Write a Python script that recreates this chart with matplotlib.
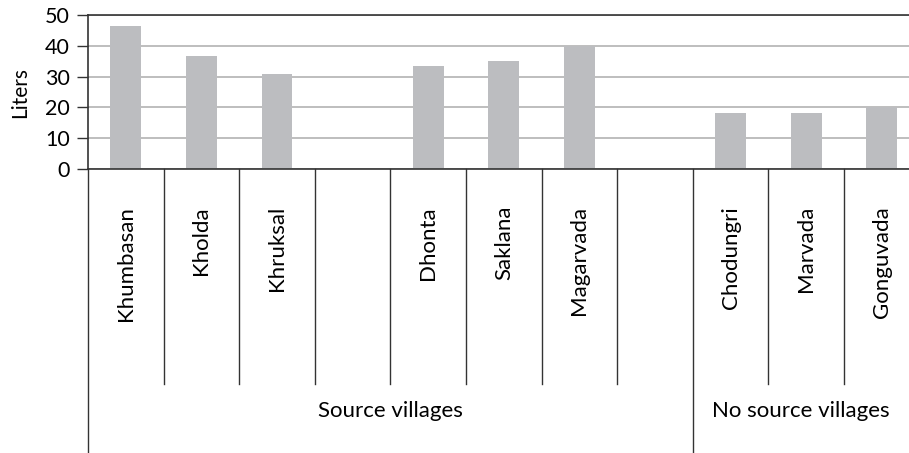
import matplotlib
matplotlib.use("Agg")
import matplotlib.pyplot as plt
import matplotlib.transforms as mtransforms

villages = ["Khumbasan", "Kholda", "Khruksal", "", "Dhonta", "Saklana",
            "Magarvada", "", "Chodungri", "Marvada", "Gonguvada"]
liters = [46.4, 36.7, 30.8, None, 33.4, 35.1, 40.0, None, 18.2, 18.2, 20.0]
groups = ["Source villages", "No source villages"]
group_spans = [(0, 8), (8, 11)]

plt.rcParams["font.family"] = ["Lato", "DejaVu Sans"]

W, H = 909, 453
fig = plt.figure(figsize=(W / 100, H / 100), dpi=100)
slot = 75.6
x0, y0, y50 = 88, 169, 15
ax = fig.add_axes([x0 / W, (H - y0) / H, len(villages) * slot / W, (y0 - y50) / H])

xs = [i + 0.5 for i, v in enumerate(liters) if v is not None]
vals = [v for v in liters if v is not None]
ax.bar(xs, vals, width=0.41, color="#bcbdc0", zorder=2)

ax.set_xlim(0, len(villages))
ax.set_ylim(0, 50)
ax.set_yticks(range(0, 51, 10))
ax.yaxis.grid(True, color="#b3b3b3", linewidth=1.2)
ax.set_axisbelow(True)
ax.tick_params(axis="y", length=8, width=1, color="#333333", labelsize=15.5, pad=5)
ax.tick_params(axis="x", length=0)
ax.set_xticks([])
fig.text(20 / W, (H - 93) / H, "Liters", rotation=90, ha="center", va="center",
         fontsize=15)

for s in ["left", "bottom", "top"]:
    ax.spines[s].set_color("#333333")
    ax.spines[s].set_linewidth(1.2)
ax.spines["right"].set_visible(False)

# category separators and labels below the axis
trans = mtransforms.blended_transform_factory(ax.transData, fig.transFigure)
long_edges = {a for a, b in group_spans}
for i in range(len(villages)):
    bottom = 0 if i in long_edges else (H - 384) / H
    ax.plot([i, i], [(H - y0) / H, bottom], color="#333333", lw=1,
            transform=trans, clip_on=False)
    if villages[i]:
        ax.text(i + 0.5, (H - 206) / H, villages[i], rotation=90, ha="center",
                va="top", fontsize=16, transform=trans)

# group labels centred on the visible part of each span
x_visible = (W - x0) / slot
for name, (a, b) in zip(groups, group_spans):
    ax.text((a + min(b, x_visible)) / 2, (H - 411) / H, name, ha="center",
            va="center", fontsize=16, transform=trans)

fig.savefig("out.png", dpi=100)
